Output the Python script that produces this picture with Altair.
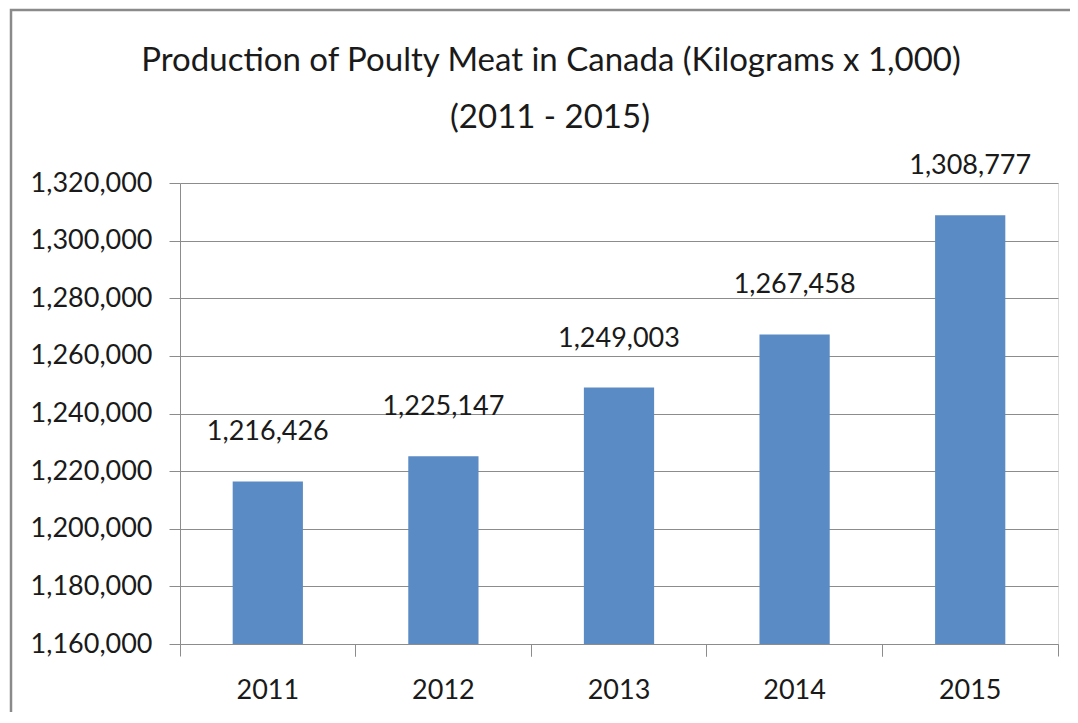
import altair as alt
import pandas as pd

# ---- data ----
years = ["2011", "2012", "2013", "2014", "2015"]
production = [1216426, 1225147, 1249003, 1267458, 1308777]
y_ticks = [1160000, 1180000, 1200000, 1220000, 1240000, 1260000, 1280000, 1300000, 1320000]
y_min = 1160000
y_max = 1320000
title_line1 = "Production of Poulty Meat in Canada (Kilograms x 1,000)"
title_line2 = "(2011 - 2015)"

df = pd.DataFrame({"year": years, "value": production})
one_df = pd.DataFrame({"k": [0]})

FONT = "Lato"
GRID = "#8c8c8c"
TEXT = "#1a1a1a"
BAR = "#5B8BC5"
FS = 27
TFS = 33

W, H = 878, 461

xscale = alt.Scale(domain=years, paddingInner=0, paddingOuter=0)
yscale = alt.Scale(domain=[y_min, y_max], nice=False, zero=False)

bars = alt.Chart(df).mark_bar(color=BAR, width=alt.RelativeBandSize(0.4)).encode(
    x=alt.X("year:N", sort=years, scale=xscale,
            axis=alt.Axis(orient="bottom", title=None, bandPosition=0, ticks=True,
                          tickSize=12, tickColor=GRID, tickWidth=1, domainColor=GRID,
                          domainWidth=1, labels=True, labelPadding=21,
                          labelFontSize=FS, labelFont=FONT, labelColor=TEXT, labelAngle=0,
                          grid=False)),
    y=alt.Y("value:Q", scale=yscale,
            axis=alt.Axis(values=y_ticks, format=",d", title=None, grid=True,
                          gridColor=GRID, gridWidth=1, tickSize=11, tickColor=GRID,
                          domainColor=GRID, labelPadding=17, labelFontSize=FS,
                          labelFont=FONT, labelColor=TEXT)),
    y2=alt.datum(y_min),
)

labels = alt.Chart(df).mark_text(font=FONT, fontSize=FS, color=TEXT, baseline="alphabetic",
                                 dy=-41).encode(
    x=alt.X("year:N", sort=years, scale=xscale,
            axis=alt.Axis(orient="bottom", title=None, bandPosition=1, ticks=True,
                          tickSize=12, tickColor=GRID, tickWidth=1, domain=False,
                          labels=False, grid=False)),
    y=alt.Y("value:Q", scale=yscale),
    text=alt.Text("value:Q", format=",d"),
)

title1 = alt.Chart(one_df).mark_text(font=FONT, fontSize=TFS, color=TEXT, baseline="alphabetic",
                                     align="center").encode(
    x=alt.value(371), y=alt.value(-112), text=alt.value(title_line1)
)
title2 = alt.Chart(one_df).mark_text(font=FONT, fontSize=TFS, color=TEXT, baseline="alphabetic",
                                     align="center").encode(
    x=alt.value(370), y=alt.value(-55), text=alt.value(title_line2)
)

border = alt.Chart(one_df).mark_rect(fillOpacity=0, stroke="#8a8a8a", strokeWidth=2.5).encode(
    x=alt.value(-169), x2=alt.value(920), y=alt.value(-173), y2=alt.value(560)
)

chart = alt.layer(bars, labels, title1, title2, border).resolve_axis(x="independent").properties(
    width=W, height=H,
    autosize=alt.AutoSizeParams(type="none"),
    padding={"left": 172, "top": 175, "right": 12, "bottom": 68},
).configure_view(stroke=None).configure(background="white")

chart.save("out.html", embed_options={"renderer": "svg", "actions": False})
